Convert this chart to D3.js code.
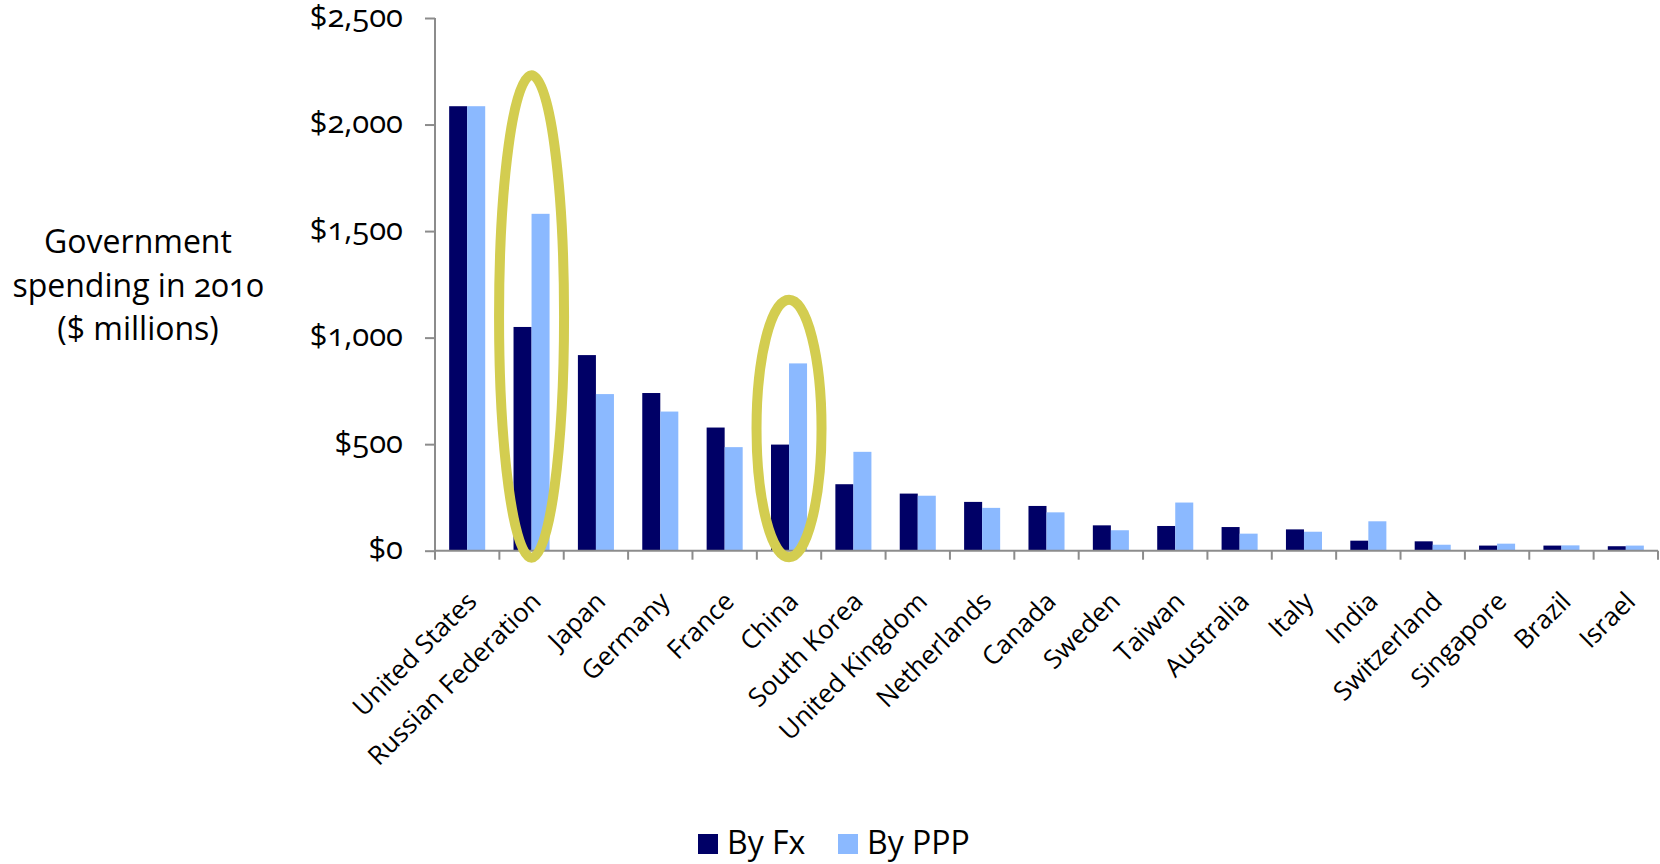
<!DOCTYPE html>
<html>
<head>
<meta charset="utf-8">
<script src="https://cdn.jsdelivr.net/npm/d3@7"></script>
<style>
  html, body { margin: 0; padding: 0; background: #fff; }
  svg text { font-family: "Open Sans", "Noto Sans", sans-serif; fill: #000; font-variant-numeric: oldstyle-nums; font-feature-settings: "onum" 1; }
</style>
</head>
<body>
<svg id="chart" width="1660" height="864"></svg>
<script>
// Government spending in 2010, $ millions, converted two ways
const countries = ["United States", "Russian Federation", "Japan", "Germany", "France", "China",
  "South Korea", "United Kingdom", "Netherlands", "Canada", "Sweden", "Taiwan", "Australia",
  "Italy", "India", "Switzerland", "Singapore", "Brazil", "Israel"];
const byFx  = [2086, 1050, 918, 740, 578, 498, 312, 268, 229, 210, 119, 116, 111, 100, 47, 44, 24, 24, 21];
const byPPP = [2086, 1581, 735, 653, 486, 879, 464, 258, 201, 180, 96, 226, 80, 89, 138, 28, 33, 25, 24];
const seriesNames = ["By Fx", "By PPP"];
const seriesColors = ["#000066", "#8BB9FF"];
const yTicks = [0, 500, 1000, 1500, 2000, 2500];
// Highlight rings: country and the value span each ring covers
const highlights = [
  { country: "Russian Federation", low: -33, high: 2231 },
  { country: "China", low: -31, high: 1178 }
];

const svg = d3.select("#chart");
const plotLeft = 435, plotRight = 1658, plotTop = 18, plotBottom = 550.7;

const x = d3.scaleBand().domain(countries).range([plotLeft, plotRight]).paddingInner(0.44).paddingOuter(0.22);
const xSeries = d3.scaleBand().domain(seriesNames).range([0, x.bandwidth()]).padding(0);
const y = d3.scaleLinear().domain([0, 2500]).range([plotBottom, plotTop]);
const step = x.step();

const rows = countries.map((c, i) => ({ country: c, values: [byFx[i], byPPP[i]] }));

// Bars
const groups = svg.append("g").selectAll("g").data(rows).join("g")
  .attr("transform", d => `translate(${x(d.country)},0)`);
groups.selectAll("rect")
  .data(d => d.values.map((v, k) => ({ v, k })))
  .join("rect")
  .attr("x", d => xSeries(seriesNames[d.k]))
  .attr("width", xSeries.bandwidth())
  .attr("y", d => y(d.v))
  .attr("height", d => y(0) - y(d.v))
  .attr("fill", d => seriesColors[d.k]);

// Y axis
const yAxis = svg.append("g").attr("transform", `translate(${plotLeft},0)`)
  .call(d3.axisLeft(y).tickValues(yTicks).tickSize(10).tickPadding(22)
    .tickFormat(d => "$" + d3.format(",")(d)));
yAxis.select(".domain").attr("stroke", "#8c8c8c").attr("stroke-width", 2).attr("d", `M0,${plotTop}V${plotBottom}`);
yAxis.selectAll(".tick line").attr("stroke", "#8c8c8c").attr("stroke-width", 2);
yAxis.selectAll(".tick text").attr("font-size", 31).attr("dy", "0.26em")
  .style("font-family", "'Open Sans', sans-serif");

// X axis: baseline with boundary ticks between categories
const xAxis = svg.append("g");
xAxis.append("line").attr("x1", plotLeft).attr("x2", plotRight).attr("y1", y(0)).attr("y2", y(0))
  .attr("stroke", "#8c8c8c").attr("stroke-width", 2);
xAxis.selectAll("line.tk").data(d3.range(countries.length + 1)).join("line").attr("class", "tk")
  .attr("x1", i => plotLeft + i * step).attr("x2", i => plotLeft + i * step)
  .attr("y1", y(0)).attr("y2", y(0) + 9)
  .attr("stroke", "#8c8c8c").attr("stroke-width", 2);
xAxis.selectAll("text").data(countries).join("text")
  .attr("transform", d => `translate(${x(d) + x.bandwidth() / 2 + 11},603) rotate(-45)`)
  .attr("text-anchor", "end")
  .attr("font-size", 26)
  .text(d => d);

// Highlight rings
svg.append("g").selectAll("ellipse").data(highlights).join("ellipse")
  .attr("cx", d => x(d.country) + x.bandwidth() / 2)
  .attr("cy", d => (y(d.low) + y(d.high)) / 2)
  .attr("rx", 32.5)
  .attr("ry", d => (y(d.low) - y(d.high)) / 2)
  .attr("fill", "none")
  .attr("stroke", "#D3CD50")
  .attr("stroke-width", 10);

// Y axis title
svg.append("text").attr("x", 138).attr("y", 253).attr("text-anchor", "middle").attr("font-size", 32)
  .selectAll("tspan").data(["Government", "spending in 2010", "($ millions)"]).join("tspan")
  .attr("x", 138).attr("dy", (d, i) => i === 0 ? 0 : 43.5).text(d => d);

// Legend
const legend = svg.append("g");
const legendX = [698, 838];
seriesNames.forEach((s, k) => {
  legend.append("rect").attr("x", legendX[k]).attr("y", 834).attr("width", 20).attr("height", 20)
    .attr("fill", seriesColors[k]);
  legend.append("text").attr("x", legendX[k] + 29).attr("y", 854).attr("font-size", 32).text(s);
});
</script>
</body>
</html>
